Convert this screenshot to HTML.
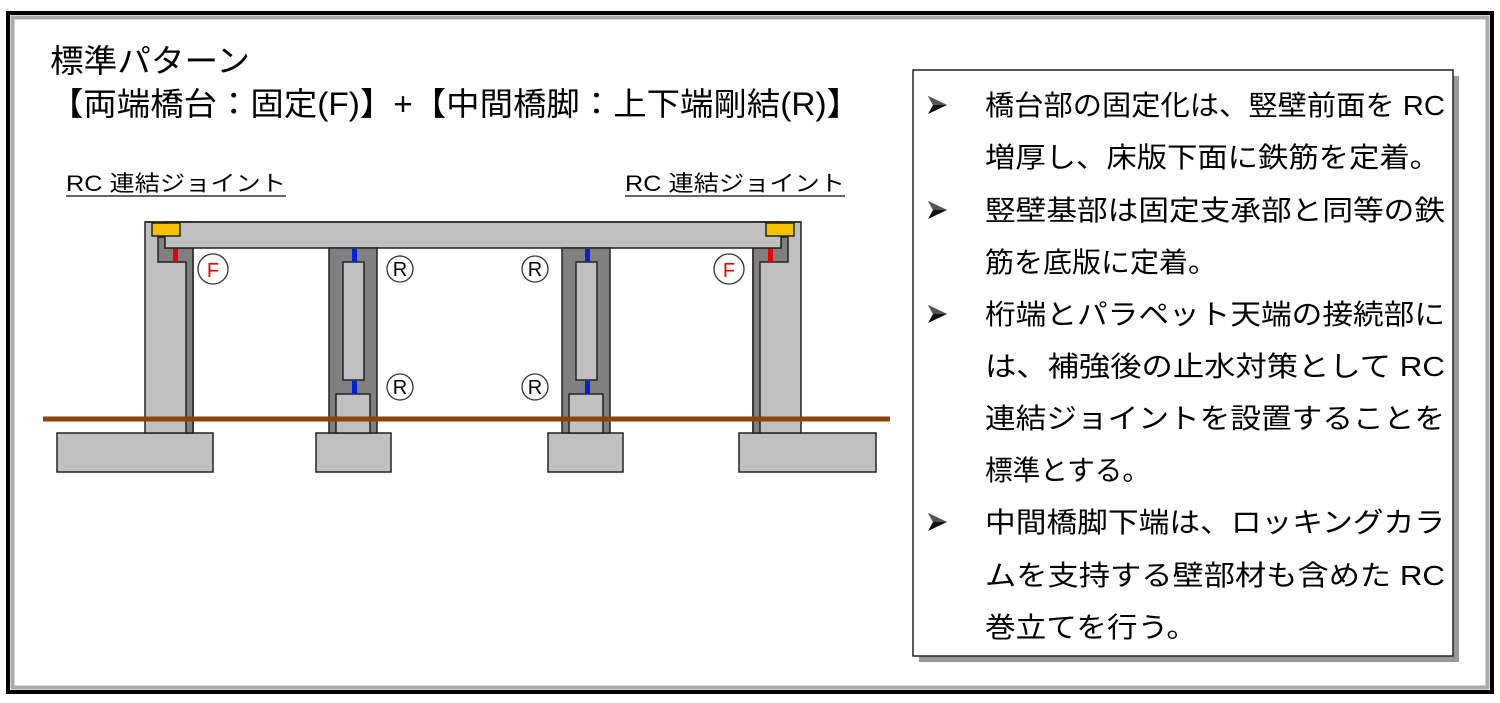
<!DOCTYPE html>
<html><head><meta charset="utf-8"><style>
html,body{margin:0;padding:0;background:#fff;}
svg{display:block;}
text{font-family:"Liberation Sans","Noto Sans CJK JP",sans-serif;}
</style></head><body>
<svg width="1500" height="703" viewBox="0 0 1500 703" xmlns="http://www.w3.org/2000/svg">
<defs>
<g id="bul"><polygon points="0,-9 19,0 0,9 5,0" fill="#111"/><polygon points="0,-9 19,0 5,0" fill="#555"/></g>
</defs>
<rect x="0" y="0" width="1500" height="703" fill="#fff"/>
<rect x="8" y="13" width="1484" height="679" fill="none" stroke="#000" stroke-width="4"/>
<rect x="12.5" y="17.5" width="1475" height="670" fill="none" stroke="#aaa" stroke-width="4"/>

<text x="50" y="72" font-size="32" textLength="200" lengthAdjust="spacingAndGlyphs">標準パターン</text>
<text x="50" y="115" font-size="32" textLength="810" lengthAdjust="spacingAndGlyphs">【両端橋台：固定(F)】+【中間橋脚：上下端剛結(R)】</text>

<text x="66" y="191" font-size="22" textLength="220" lengthAdjust="spacingAndGlyphs">RC 連結ジョイント</text>
<line x1="66" y1="196" x2="286" y2="196" stroke="#333" stroke-width="1.5"/>
<text x="625" y="191" font-size="22" textLength="220" lengthAdjust="spacingAndGlyphs">RC 連結ジョイント</text>
<line x1="625" y1="196" x2="845" y2="196" stroke="#333" stroke-width="1.5"/>

<g stroke="#222" stroke-width="1.5">
<rect x="57" y="433" width="156" height="39" fill="#c0c0c0"/>
<rect x="316" y="433" width="75" height="39" fill="#c0c0c0"/>
<rect x="548" y="433" width="75" height="39" fill="#c0c0c0"/>
<rect x="739" y="433" width="137" height="39" fill="#c0c0c0"/>
<rect x="145" y="222" width="48" height="211" fill="#c0c0c0"/>
<polygon points="158,237 165,237 165,248 193,248 193,433 186,433 186,262 158,262" fill="#808080"/>
<rect x="753" y="222" width="48" height="211" fill="#c0c0c0"/>
<polygon points="788,237 781,237 781,248 753,248 753,433 760,433 760,262 788,262" fill="#808080"/>
<rect x="165" y="222" width="616" height="26" fill="#c0c0c0"/>
<line x1="145" y1="222" x2="801" y2="222"/>
<rect x="329" y="248" width="48" height="185" fill="#808080"/>
<rect x="343" y="262" width="21" height="118" fill="#c0c0c0"/>
<rect x="336" y="394" width="34" height="39" fill="#c0c0c0"/>
<rect x="562" y="248" width="48" height="185" fill="#808080"/>
<rect x="576" y="262" width="21" height="118" fill="#c0c0c0"/>
<rect x="569" y="394" width="34" height="39" fill="#c0c0c0"/>
<rect x="152" y="223" width="28" height="13" fill="#f5c400"/>
<rect x="766" y="223" width="28" height="13" fill="#f5c400"/>
</g>
<rect x="173" y="249" width="5" height="13" fill="#e00"/>
<rect x="768" y="249" width="5" height="13" fill="#e00"/>
<rect x="352" y="249" width="5" height="13" fill="#0022dd"/>
<rect x="352" y="381" width="5" height="13" fill="#0022dd"/>
<rect x="585" y="249" width="5" height="13" fill="#0022dd"/>
<rect x="585" y="381" width="5" height="13" fill="#0022dd"/>

<line x1="43" y1="419" x2="890" y2="419" stroke="#8a4210" stroke-width="5"/>

<g fill="#fff" stroke="#333" stroke-width="1.3">
<circle cx="213" cy="269" r="15"/><circle cx="729" cy="269" r="15"/>
<circle cx="400" cy="269" r="13"/><circle cx="400" cy="387" r="13"/>
<circle cx="535" cy="269" r="13"/><circle cx="535" cy="387" r="13"/>
</g>
<g font-size="20" text-anchor="middle">
<text x="213" y="277" fill="#e00">F</text><text x="729" y="277" fill="#e00">F</text>
<text x="400" y="276">R</text><text x="400" y="394">R</text>
<text x="535" y="276">R</text><text x="535" y="394">R</text>
</g>

<rect x="919" y="76" width="540" height="586" fill="#999"/>
<rect x="913" y="70" width="540" height="586" fill="#fff" stroke="#222" stroke-width="1.5"/>
<use href="#bul" x="928" y="105"/>
<use href="#bul" x="928" y="210"/>
<use href="#bul" x="928" y="314"/>
<use href="#bul" x="928" y="522"/>
<g font-size="28">
<text x="985" y="115" textLength="460" lengthAdjust="spacingAndGlyphs">橋台部の固定化は、竪壁前面を RC</text>
<text x="985" y="167" textLength="455" lengthAdjust="spacingAndGlyphs">増厚し、床版下面に鉄筋を定着。</text>
<text x="985" y="220" textLength="460" lengthAdjust="spacingAndGlyphs">竪壁基部は固定支承部と同等の鉄</text>
<text x="985" y="272" textLength="232" lengthAdjust="spacingAndGlyphs">筋を底版に定着。</text>
<text x="985" y="324" textLength="460" lengthAdjust="spacingAndGlyphs">桁端とパラペット天端の接続部に</text>
<text x="985" y="376" textLength="460" lengthAdjust="spacingAndGlyphs">は、補強後の止水対策として RC</text>
<text x="985" y="428" textLength="460" lengthAdjust="spacingAndGlyphs">連結ジョイントを設置することを</text>
<text x="985" y="480" textLength="165" lengthAdjust="spacingAndGlyphs">標準とする。</text>
<text x="985" y="532" textLength="460" lengthAdjust="spacingAndGlyphs">中間橋脚下端は、ロッキングカラ</text>
<text x="985" y="585" textLength="460" lengthAdjust="spacingAndGlyphs">ムを支持する壁部材も含めた RC</text>
<text x="985" y="637" textLength="212" lengthAdjust="spacingAndGlyphs">巻立てを行う。</text>
</g>
</svg>
</body></html>
